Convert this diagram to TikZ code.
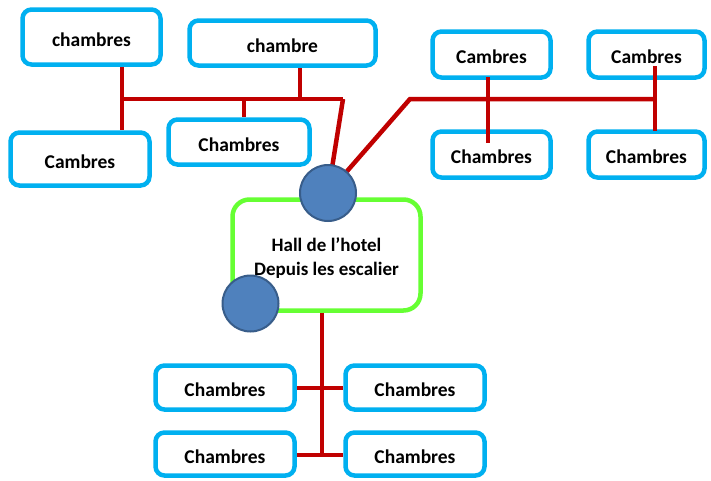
\documentclass[tikz,border=0pt]{standalone}
\usepackage{fontspec}
\setmainfont{Carlito}
\definecolor{boxblue}{RGB}{0,176,240}
\definecolor{linered}{RGB}{192,0,0}
\definecolor{hallgreen}{RGB}{102,255,51}
\definecolor{circfill}{RGB}{79,129,189}
\definecolor{circdraw}{RGB}{56,93,138}
\begin{document}
\begin{tikzpicture}[x=1pt,y=-1pt,
  room/.style={draw=boxblue, line width=4.5pt, rounded corners=9pt, fill=white,
    font=\fontsize{19.5}{22}\selectfont\bfseries, inner sep=0pt, text height=18pt, text depth=0pt},
  hallbox/.style={draw=hallgreen, line width=4.5pt, rounded corners=17pt, fill=white},
  link/.style={draw=linered, line width=4.5pt},
  hub/.style={circle, draw=circdraw, line width=2pt, fill=circfill, minimum size=56pt, inner sep=0pt}]
\useasboundingbox[fill=white] (0,0) rectangle (711,480);

% top-left cluster
\node[room, minimum width=138pt, minimum height=55pt] (b1) at (91.5,37) {chambres};
\node[room, minimum width=186pt, minimum height=45pt] (b2) at (282.5,43) {chambre};
\node[room, minimum width=139pt, minimum height=53pt] (b3) at (80,159) {Cambres};
\node[room, minimum width=141pt, minimum height=45pt] (b4) at (239,142) {Chambres};
% top-right cluster
\node[room, minimum width=118pt, minimum height=46pt] (b5) at (491.5,54.5) {Cambres};
\node[room, minimum width=116pt, minimum height=46pt] (b6) at (646.5,54.5) {Cambres};
\node[room, minimum width=118pt, minimum height=46pt] (b7) at (491.5,154.5) {Chambres};
\node[room, minimum width=116pt, minimum height=46pt] (b8) at (646.5,154.5) {Chambres};
% bottom cluster
\node[room, minimum width=139pt, minimum height=44pt] (b9) at (225,387.5) {Chambres};
\node[room, minimum width=139pt, minimum height=44pt] (b10) at (415,387.5) {Chambres};
\node[room, minimum width=139pt, minimum height=43pt] (b11) at (225,454) {Chambres};
\node[room, minimum width=139pt, minimum height=43pt] (b12) at (415,454) {Chambres};

% hall
\node[hallbox, minimum width=188pt, minimum height=111pt] (hall) at (326.5,255) {};
\node[align=center, font=\fontsize{19}{24}\selectfont\bfseries] (halltxt) at (326.5,258) {Hall de l’hotel\\Depuis les escalier};

% junction coordinates
\coordinate (j1) at (122,99);
\coordinate (j2) at (244,99);
\coordinate (j3) at (300,99);
\coordinate (jL) at (343,99);
\coordinate (jR) at (410,99);
\coordinate (jE) at (655,99);
\coordinate (jB) at (322,455);
\coordinate (jM) at (322,388);
\coordinate (c1pos) at (328,193);

% left cluster links
\draw[link] (j1 |- b1.south) -- (j1 |- b3.north);
\draw[link] (j1) -- (jL);
\draw[link] (j3 |- b2.south) -- (j3);
\draw[link] (j2) -- (j2 |- b4.north);
\draw[link] (jL) -- (c1pos);
% right cluster links
\draw[link] (c1pos) -- (jR) -- (jE);
\draw[link] (488,77) -- (488,143);
\draw[link] (655,66) -- (655,131);
% bottom links
\draw[link] (hall.south -| jB) -- (jB);
\draw[link] (b9.east |- jM) -- (b10.west |- jM);
\draw[link] (b11.east |- jB) -- (b12.west |- jB);

% hubs
\node[hub] (c1) at (c1pos) {};
\node[hub] (c2) at (250.5,303.5) {};
\end{tikzpicture}
\end{document}
